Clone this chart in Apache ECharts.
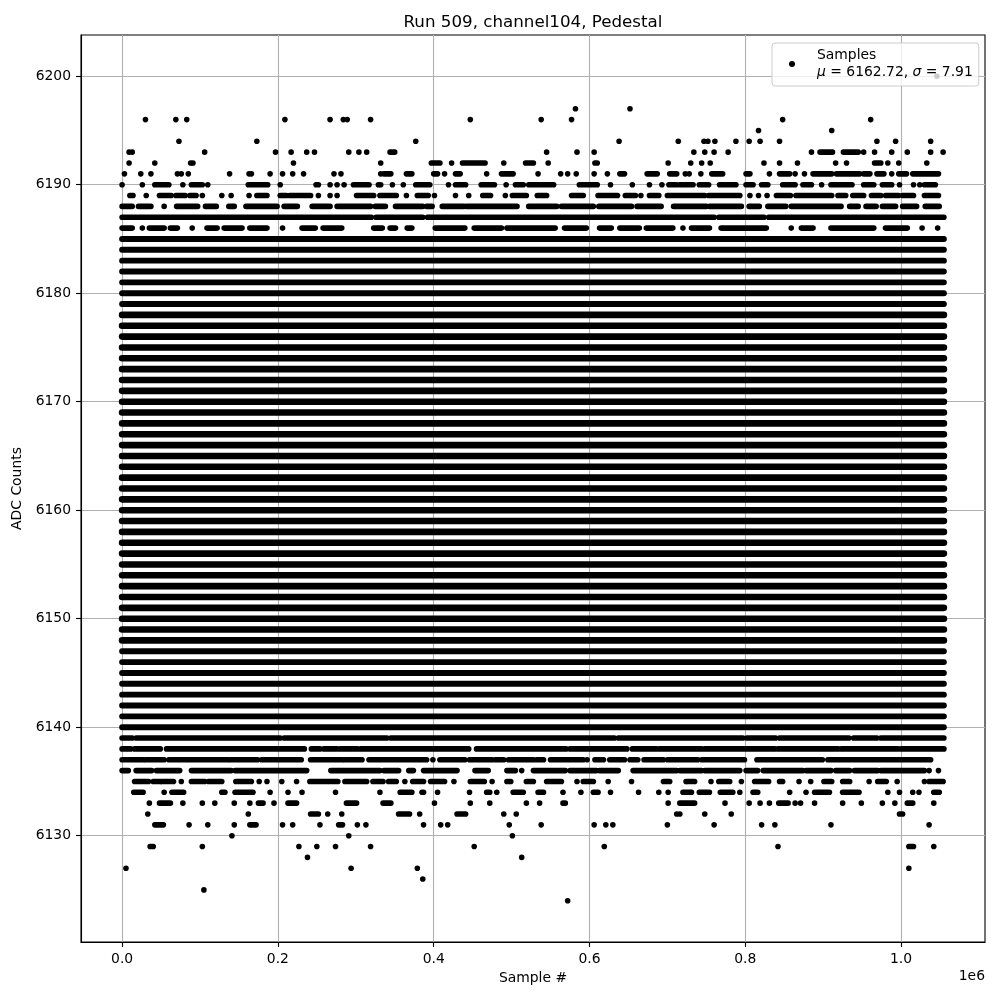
<!DOCTYPE html>
<html><head><meta charset="utf-8">
<script src="https://cdn.jsdelivr.net/npm/echarts@6/dist/echarts.min.js"></script>
<style>html,body{margin:0;padding:0;background:#fff}#c{width:1000px;height:1000px}</style>
</head><body><div id="c"></div>
<script>
// tick labels
const xTicks = [0, 200000, 400000, 600000, 800000, 1000000];
const yTicks = [6130, 6140, 6150, 6160, 6170, 6180, 6190, 6200];

// ADC levels filled across the whole run (sample numbers in thousands)
const coreLevels = [6148, 6149, 6150, 6151, 6152, 6153, 6154, 6155, 6156, 6157, 6158, 6159,
  6160, 6161, 6162, 6163, 6164, 6165, 6166, 6167, 6168, 6169,
  6170, 6171, 6172, 6173, 6174, 6175, 6176, 6177, 6178];
const edgeLevels = [6140, 6141, 6142, 6143, 6144, 6145, 6146, 6147,
  6179, 6180, 6181, 6182, 6183, 6184, 6185];
const solidRun = [0, 1055];

// partly filled levels: single samples (number) or runs [from, to], thousands of samples
const r6200 = [1046];
const r6197 = [582, 652];
const r6196 = [30, 69, 83, 209, 267, 284, 289, 319, 447, 538, 577, 848, 961];
const r6195 = [817, 911];
const r6194 = [73, 173, 377, 638, 714, 747, 752, 761, 788, 805, 819, 844, 969, 993, 1038];
const r6193 = [9, 13, 106, 197, 217, 237, 247, 291, 304, 314, [344, 350], 545, 584, 606, 734, 748, 760, 778, 885, [896, 912], [926, 945], 952, 966, 988, 1008, 1038, 1054];
const r6192 = [9, 42, 88, 91, 220, 332, [397, 408], 423, [437, 466], 490, [518, 528], 547, [607, 610], 701, 730, 744, 755, 824, 844, 867, 916, 930, [966, 974], 983, 997, 1033];
const r6191 = [3, 24, 37, 71, 76, 85, 138, 163, 166, 190, 206, 219, 233, 272, 281, 332, [336, 345], [365, 372], [400, 405], 414, [428, 434], 468, [487, 502], 534, 563, 572, 583, 606, 623, [639, 645], [674, 687], [703, 712], 723, 728, 743, [757, 771], [801, 806], 831, [844, 857], 864, 876, [887, 911], [917, 947], [952, 960], [969, 978], 988, [997, 1007], [1015, 1048]];
const r6190 = [0, 26, [42, 60], 78, [89, 103], 110, [162, 187], 203, [249, 252], 267, 276, 285, [297, 317], 329, 332, 347, 361, [377, 395], 419, [428, 441], [461, 478], 493, [505, 515], [522, 554], [587, 610], 627, 655, 677, 693, [702, 712], [716, 733], [741, 753], [767, 788], [801, 810], [821, 829], [848, 864], [874, 885], 898, [910, 937], [952, 965], [976, 988], 998, 1016, 1024, [1030, 1044]];
const r6189 = [[10, 14], 31, [48, 63], [69, 81], [87, 95], 103, 128, 140, 163, [173, 186], [203, 211], [215, 242], 252, 267, 276, [301, 323], [331, 352], 365, [379, 393], 401, 428, 445, [463, 473], 492, [501, 519], [533, 545], [577, 592], [611, 636], [646, 659], 666, [677, 689], [700, 748], [753, 793], 806, 817, 828, [840, 858], [865, 911], [919, 929], [938, 952], [962, 974], [980, 997], [1002, 1016], [1030, 1048]];
const r6188 = [[0, 13], [21, 37], 54, [70, 97], [107, 121], [137, 144], [159, 199], [208, 225], [244, 267], [276, 319], [325, 338], [351, 386], [391, 398], [411, 439], [442, 507], [522, 558], [564, 605], [612, 654], [661, 692], [708, 750], [754, 795], [805, 818], [829, 852], [859, 923], [934, 945], [955, 968], [976, 993], [1002, 1020], [1031, 1049]];
const r6187 = [[0, 320], [326, 386], [392, 760], [766, 824], [830, 1055]];
const r6186 = [[0, 13], 26, [35, 54], [62, 71], 90, [109, 122], [131, 154], [164, 186], 206, [231, 248], [258, 282], [323, 334], [344, 351], [366, 372], [402, 440], [452, 487], [494, 556], [568, 596], [613, 628], [639, 664], [673, 707], 720, [731, 754], [769, 827], 859, [872, 887], [910, 965], [980, 1008], 1027, 1047];
const r6139 = [[0, 13], [18, 203], [208, 340], [345, 632], [637, 797], [802, 839], [844, 933], [939, 969], [974, 1055]];
const r6138 = [[0, 11], [16, 49], [57, 234], [243, 254], [259, 276], [280, 302], [306, 445], [455, 570], [575, 648], [655, 686], [690, 744], [748, 838], [842, 919], [923, 996], [1000, 1055]];
const r6137 = [[0, 27], [30, 54], [60, 136], [139, 174], [179, 230], [242, 283], [286, 308], [317, 391], 399, [408, 440], [446, 475], [479, 490], [496, 528], [532, 541], [550, 592], 597, [607, 618], [626, 645], [652, 662], [670, 695], [700, 739], [744, 799], [815, 899], [906, 1038]];
const r6136 = [[0, 8], [18, 38], [44, 74], [89, 140], [145, 237], [268, 331], [336, 355], [368, 374], [387, 430], [453, 470], [494, 505], 513, [528, 569], [575, 609], [613, 637], [656, 712], [716, 744], [748, 793], [801, 816], [823, 874], [878, 910], [916, 934], [940, 970], [974, 1030], 1036, 1048];
const r6135 = [[16, 34], [40, 49], [51, 66], 76, [89, 106], [111, 128], [146, 166], 176, 186, 205, 224, [241, 277], [286, 314], [322, 335], [342, 352], 363, [373, 387], [396, 414], 426, [447, 465], 475, [494, 499], [519, 528], [545, 564], 584, [592, 605], 624, 654, [695, 703], 724, [726, 735], 756, [766, 780], 795, [812, 830], [844, 848], 869, 884, [901, 911], [925, 934], 959, [970, 981], 995, 1030, [1036, 1054]];
const r6134 = [[15, 27], 54, [64, 79], [128, 132], [145, 168], 190, 213, 231, 274, 331, [357, 372], [385, 387], 405, 446, [468, 472], 481, [502, 515], [534, 541], 566, 589, [605, 611], 627, 663, 689, 701, [720, 729], 731, [741, 754], [768, 784], 793, [810, 816], 857, 878, [889, 908], [925, 946], 983, 998, 1015, 1023, [1042, 1049]];
const r6133 = [35, [48, 62], 78, 103, 119, 144, 164, [175, 181], 195, [213, 224], [288, 301], [335, 345], 401, 447, 472, 519, 536, [566, 569], 701, [716, 735], 774, 805, 819, 831, [843, 855], 864, 871, 889, 925, 949, 976, 992, [1008, 1015], 1042];
const r6132 = [33, 162, [242, 252], 264, 282, [355, 369], 382, [430, 441], 490, 506, 712, 716, 748, 782, [998, 1002]];
const r6131 = [[42, 53], 86, 110, 144, [164, 172], 206, 219, 254, [278, 283], 302, 313, 387, 409, 418, 497, 538, 606, 621, 630, 700, 760, 821, 838, 910, 1036];
const r6130 = [141, 291, 501];
const r6129 = [[36, 40], 103, 227, 250, 274, 319, 452, 619, 842, [1010, 1016], 1042];
const r6128 = [238, 513];
const r6127 = [5, 294, 379, 1010];
const r6126 = [386];
const r6125 = [105];
const r6124 = [572];

const sparseLevels = [6200, 6197, 6196, 6195, 6194, 6193, 6192, 6191, 6190, 6189, 6188, 6187, 6186,
  6139, 6138, 6137, 6136, 6135, 6134, 6133, 6132, 6131, 6130, 6129, 6128, 6127, 6126, 6125, 6124];
const sparseRows = [r6200, r6197, r6196, r6195, r6194, r6193, r6192, r6191, r6190, r6189, r6188, r6187, r6186,
  r6139, r6138, r6137, r6136, r6135, r6134, r6133, r6132, r6131, r6130, r6129, r6128, r6127, r6126, r6125, r6124];

const legendName = 'Samples';
const muText = '6162.72';
const sigmaText = '7.91';

// build data (x in samples)
const K = 1000;
const coreData = coreLevels.map(l => [solidRun[0] * K, solidRun[1] * K, l]);
const edgeData = edgeLevels.map(l => [solidRun[0] * K, solidRun[1] * K, l]);
const dotData = [];
sparseLevels.forEach((l, i) => {
  sparseRows[i].forEach(it => {
    if (Array.isArray(it)) dotData.push([it[0] * K, it[1] * K, l]);
    else dotData.push([it * K, it * K, l]);
  });
});

function makeRender(h) {
  return function (params, api) {
    const y = api.value(2);
    const p0 = api.coord([api.value(0), y]);
    const p1 = api.coord([api.value(1), y]);
    return {
      type: 'rect',
      shape: { x: p0[0] - h / 2, y: p0[1] - h / 2, width: p1[0] - p0[0] + h, height: h, r: h / 2 },
      style: { fill: '#000' }
    };
  };
}

const FONT = 'DejaVu Sans';
const FS = 13.9;
const chart = echarts.init(document.getElementById('c'), null, { renderer: 'canvas' });
chart.setOption({
  animation: false,
  backgroundColor: '#fff',
  title: {
    text: 'Run 509, channel104, Pedestal',
    left: 533, top: 14, padding: 0, textAlign: 'center',
    textStyle: { fontFamily: FONT, fontSize: 16.7, fontWeight: 'normal', color: '#000' }
  },
  grid: { left: 81, right: 15, top: 35, bottom: 58, outerBoundsMode: 'none', containLabel: false,
    show: true, borderColor: '#000', borderWidth: 1.1, backgroundColor: 'transparent' },
  legend: {
    left: 772, top: 43,
    data: [{ name: legendName, icon: 'circle' }],
    itemWidth: 40, itemHeight: 6,
    padding: [4, 6, 5, 17],
    backgroundColor: 'rgba(255,255,255,0.8)',
    borderColor: '#cccccc', borderWidth: 1, borderRadius: 3,
    selectedMode: false,
    itemStyle: { color: '#000' },
    formatter: () => legendName + '\n{i|\u03bc} = ' + muText + ', {i|\u03c3} = ' + sigmaText,
    textStyle: {
      color: '#000', fontFamily: FONT, fontSize: FS, lineHeight: 17,
      rich: { i: { fontStyle: 'italic', fontFamily: FONT, fontSize: FS, lineHeight: 17, color: '#000' } }
    }
  },
  xAxis: {
    type: 'value', min: -52750, max: 1107750,
    name: 'Sample #', nameLocation: 'middle', nameGap: 27,
    nameTextStyle: { fontFamily: FONT, fontSize: FS, color: '#000' },
    axisLine: { show: true, onZero: false, lineStyle: { color: '#000', width: 1.1 } },
    axisTick: { show: true, inside: false, length: 5, customValues: xTicks, lineStyle: { color: '#000', width: 1.1 } },
    axisLabel: { customValues: xTicks, margin: 10, color: '#000', fontFamily: FONT, fontSize: FS, formatter: v => (v / 1e6).toFixed(1) },
    splitLine: { show: true, lineStyle: { color: '#b0b0b0', width: 1.1 } }
  },
  yAxis: {
    type: 'value', min: 6120.2, max: 6203.8,
    name: 'ADC Counts', nameLocation: 'middle', nameGap: 44, nameRotate: 90,
    nameTextStyle: { fontFamily: FONT, fontSize: FS, color: '#000' },
    axisLine: { show: true, onZero: false, lineStyle: { color: '#000', width: 1.1 } },
    axisTick: { show: true, inside: false, length: 5, customValues: yTicks, lineStyle: { color: '#000', width: 1.1 } },
    axisLabel: { customValues: yTicks, margin: 10, color: '#000', fontFamily: FONT, fontSize: FS, formatter: v => String(v) },
    splitLine: { show: true, lineStyle: { color: '#b0b0b0', width: 1.1 } }
  },
  graphic: [{
    type: 'text', right: 15, top: 969,
    style: { text: '1e6', font: FS + 'px "' + FONT + '"', fill: '#000' }
  }],
  series: [
    { type: 'custom', name: legendName, data: coreData, encode: { x: [0, 1], y: 2 }, renderItem: makeRender(6.6), itemStyle: { color: '#000' }, z: 2 },
    { type: 'custom', name: legendName, data: edgeData, encode: { x: [0, 1], y: 2 }, renderItem: makeRender(5.9), itemStyle: { color: '#000' }, z: 2 },
    { type: 'custom', name: legendName, data: dotData, encode: { x: [0, 1], y: 2 }, renderItem: makeRender(5.6), itemStyle: { color: '#000' }, z: 2 }
  ]
});
</script>
</body></html>
